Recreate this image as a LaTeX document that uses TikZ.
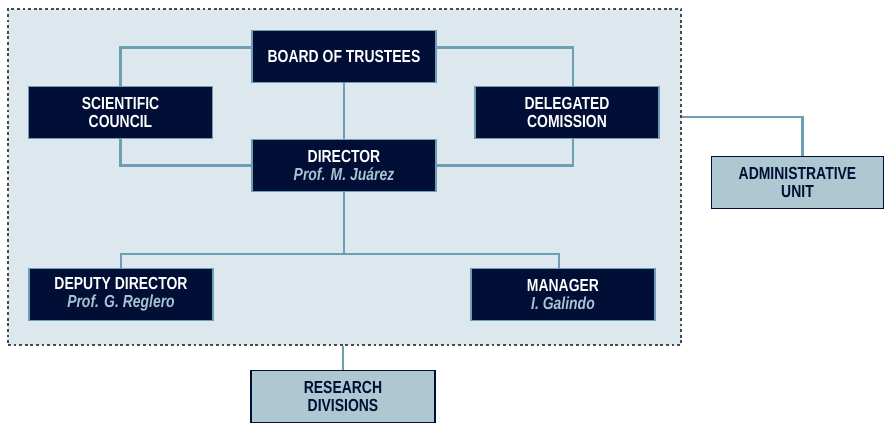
\documentclass[tikz,border=0pt]{standalone}
\usepackage{fontspec}
\setmainfont{Liberation Sans}[FakeStretch=0.8]
\usepackage{xcolor}
\usetikzlibrary{positioning}

\definecolor{navy}{HTML}{010E35}
\definecolor{linkblue}{HTML}{6C9FB4}
\definecolor{framefill}{HTML}{DDE7EE}
\definecolor{framegray}{HTML}{4A4A4A}
\definecolor{paleblue}{HTML}{AEC8D2}
\definecolor{namegray}{HTML}{A9C3D3}

\newcommand{\who}[1]{{\color{namegray}\itshape #1}}

\tikzset{
    unit/.style={draw=linkblue, line width=0.8pt, fill=navy, text=white,
        font=\fontsize{12.4}{12.6}\selectfont\bfseries, align=center,
        minimum width=4.6cm, minimum height=1.32cm, inner sep=2pt},
    extunit/.style={unit, draw=navy, fill=paleblue, text=navy},
    link/.style={draw=linkblue, line width=1.5pt},
    frame/.style={draw=framegray, line width=1pt, dash pattern=on 2pt off 2pt,
        fill=framefill, minimum width=16.825cm, minimum height=8.4cm, inner sep=0pt}
}

\begin{document}
\begin{tikzpicture}[x=0.025cm, y=-0.025cm]
    \useasboundingbox (0,0) rectangle (884,424);

    % Governing bodies (dashed frame)
    \node[frame] (core) at (344.5,177) {};

    % Units inside the frame
    \node[unit] (board) at (344,56.5) {BOARD OF TRUSTEES};
    \node[unit] (sci)   at (120.5,112.5) {SCIENTIFIC\\COUNCIL};
    \node[unit] (del)   at (567,112.5) {DELEGATED\\COMISSION};
    \node[unit] (dir)   at (344,165.5) {DIRECTOR\\\who{Prof. M. Juárez}};
    \node[unit] (dep)   at (121,294.5) {DEPUTY DIRECTOR\\\who{Prof. G. Reglero}};
    \node[unit] (man)   at (563,294.5) {MANAGER\\\who{I. Galindo}};

    % Units outside the frame
    \node[extunit, minimum width=4.28cm] (adm) at (797.5,182.5) {ADMINISTRATIVE\\UNIT};
    \node[extunit, minimum height=1.3cm] (rsd) at (343,396.5) {RESEARCH\\DIVISIONS};

    % Connectors
    \draw[link] ([yshift=0.225cm]board.west) -| (sci.north);
    \draw[link] ([yshift=0.225cm]board.east) -| ([xshift=0.15cm]del.north);
    \draw[link] (sci.south) |- (dir.west);
    \draw[link] ([xshift=0.15cm]del.south) |- (dir.east);
    \draw[link] (board.south) -- (dir.north);

    \coordinate (split) at (344,254);
    \draw[link] (dir.south) -- (split);
    \draw[link] (split) -| (dep.north);
    \draw[link] (split) -| ([xshift=-0.1cm]man.north);

    \draw[link] ([yshift=1.5cm]core.east) -| ([xshift=0.125cm]adm.north);
    \draw[link] (core.south -| rsd.north) -- (rsd.north);
\end{tikzpicture}
\end{document}
